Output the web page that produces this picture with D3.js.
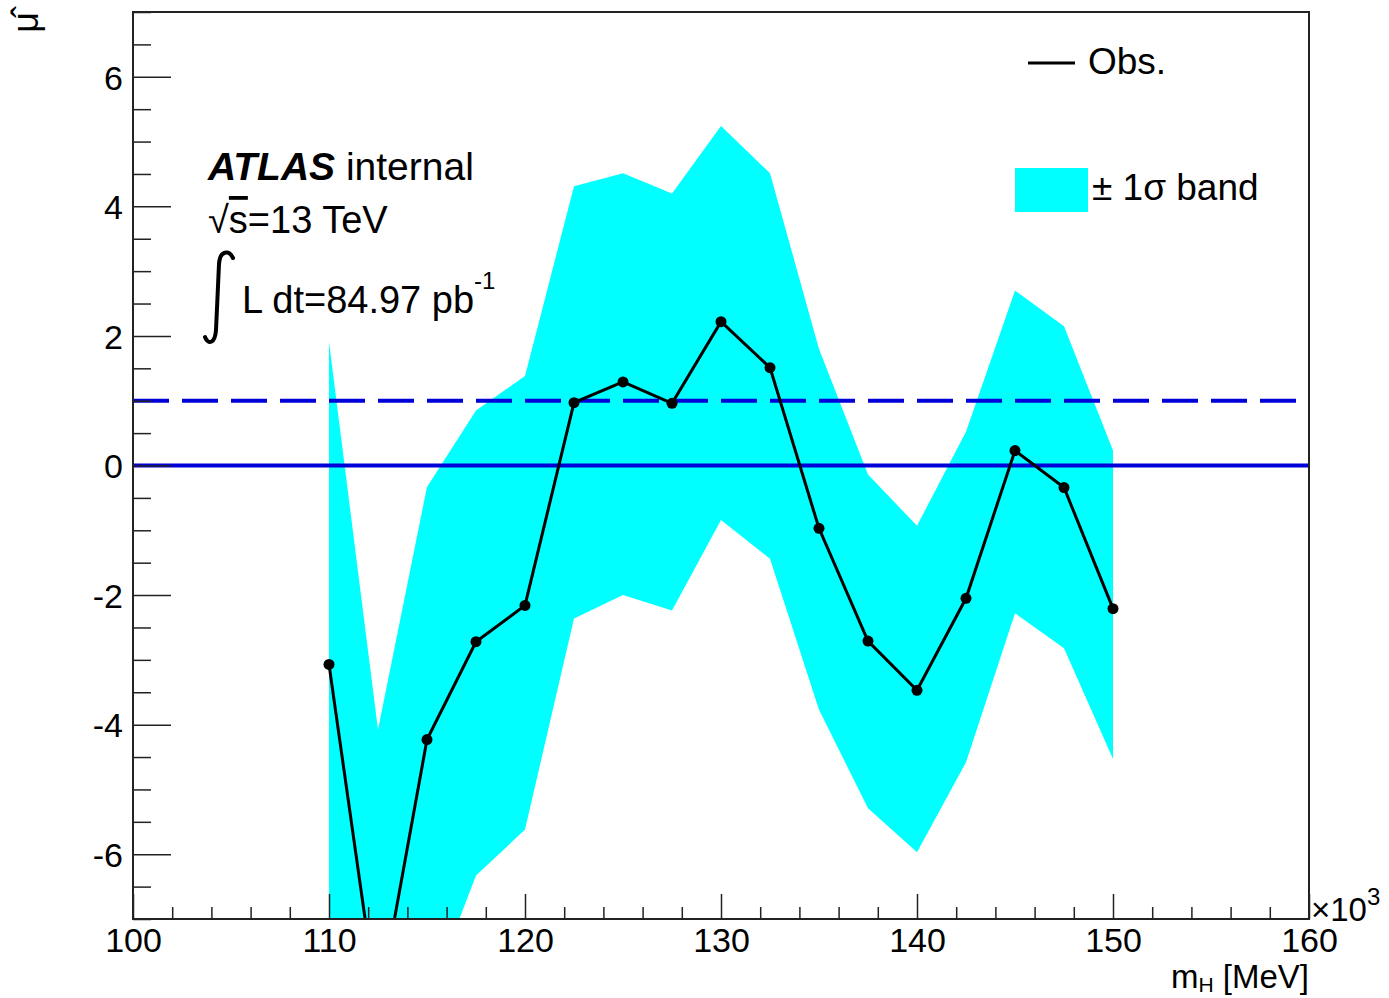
<!DOCTYPE html>
<html>
<head>
<meta charset="utf-8">
<script src="https://cdn.jsdelivr.net/npm/d3@7"></script>
<style>
  body { margin: 0; background: #fff; }
  text { font-family: "Liberation Sans", Arial, sans-serif; fill: #000; }
</style>
</head>
<body>
<svg id="chart"></svg>
<script>
// mass points (x10^3 MeV)
const masses = [110, 112.5, 115, 117.5, 120, 122.5, 125, 127.5, 130, 132.5, 135, 137.5, 140, 142.5, 145, 147.5, 150];
// observed mu-hat
const observed = [-3.07, -8.4, -4.23, -2.72, -2.16, 0.97, 1.29, 0.96, 2.22, 1.51, -0.97, -2.71, -3.47, -2.05, 0.23, -0.34, -2.21];
// +/- 1 sigma band edges
const bandUp = [1.91, -4.08, -0.33, 0.85, 1.38, 4.31, 4.51, 4.2, 5.24, 4.51, 1.8, -0.14, -0.93, 0.52, 2.7, 2.15, 0.23];
const bandLow = [-9.5, -10.5, -8.3, -6.33, -5.62, -2.36, -2.0, -2.24, -0.84, -1.44, -3.77, -5.29, -5.97, -4.58, -2.28, -2.82, -4.53];
// reference lines
const refLines = [0, 1];
// tick labels
const xTicks = [100, 110, 120, 130, 140, 150, 160];
const yTicks = [-6, -4, -2, 0, 2, 4, 6];

const width = 1389;
const height = 998;
const pLeft = 133, pRight = 1309, pTop = 12, pBottom = 919;

const svg = d3.select('#chart').attr('width', width).attr('height', height);

const x = d3.scaleLinear().domain([100, 160]).range([pLeft, pRight]);
const y = d3.scaleLinear().domain([-7, 7]).range([pBottom, pTop]);

svg.append('clipPath').attr('id', 'plotclip')
  .append('rect')
  .attr('x', pLeft).attr('y', pTop)
  .attr('width', pRight - pLeft).attr('height', pBottom - pTop);

const plot = svg.append('g').attr('clip-path', 'url(#plotclip)');

const rows = masses.map((m, i) => ({ m, obs: observed[i], up: bandUp[i], low: bandLow[i] }));

// cyan band
const area = d3.area()
  .x((d) => x(d.m))
  .y0((d) => y(d.low))
  .y1((d) => y(d.up));

plot.append('path')
  .datum(rows)
  .attr('d', area)
  .attr('fill', '#00ffff');

// mu = 0 (solid) and mu = 1 (dashed)
plot.selectAll('line.ref')
  .data(refLines)
  .join('line')
  .attr('class', 'ref')
  .attr('x1', pLeft).attr('x2', pRight)
  .attr('y1', (d) => y(d)).attr('y2', (d) => y(d))
  .attr('stroke', '#0000d8')
  .attr('stroke-width', 4)
  .attr('stroke-dasharray', (d) => (d === 1 ? '36,13' : null));

// observed line + markers
const line = d3.line().x((d) => x(d.m)).y((d) => y(d.obs));
plot.append('path')
  .datum(rows)
  .attr('d', line)
  .attr('fill', 'none')
  .attr('stroke', '#000')
  .attr('stroke-width', 3);

plot.selectAll('circle')
  .data(rows)
  .join('circle')
  .attr('cx', (d) => x(d.m))
  .attr('cy', (d) => y(d.obs))
  .attr('r', 5.5)
  .attr('fill', '#000');

// axes: major ticks with labels, minor ticks without
const fmt = (d) => String(d); // plain hyphen minus like ROOT
const xMajor = d3.axisBottom(x).tickValues(xTicks).tickSize(-25).tickPadding(0).tickFormat(fmt);
const xMinor = d3.axisBottom(x).tickValues(d3.range(100, 161, 2).filter((v) => v % 10 !== 0)).tickSize(-12).tickFormat('');
const yMajor = d3.axisLeft(y).tickValues(yTicks).tickSize(-38).tickPadding(0).tickFormat(fmt);
const yMinor = d3.axisLeft(y).tickValues(d3.range(-7, 7.01, 0.5).filter((v) => v % 2 !== 0)).tickSize(-18).tickFormat('');

function styleAxis(g) {
  g.select('.domain').remove();
  g.selectAll('.tick line').attr('stroke', '#222').attr('stroke-width', 1.5);
  g.selectAll('.tick text').attr('font-size', 34).attr('fill', '#000')
    .style('font-family', '"Liberation Sans", Arial, sans-serif');
}

svg.append('g').attr('transform', `translate(0,${pBottom})`).call(xMinor).call(styleAxis);
svg.append('g').attr('transform', `translate(0,${pBottom})`).call(xMajor).call(styleAxis)
  .selectAll('.tick text').attr('dy', null).attr('y', 33);
svg.append('g').attr('transform', `translate(${pLeft},0)`).call(yMinor).call(styleAxis);
svg.append('g').attr('transform', `translate(${pLeft},0)`).call(yMajor).call(styleAxis)
  .selectAll('.tick text').attr('x', -10).attr('dy', '0.36em');

// frame
svg.append('rect')
  .attr('x', pLeft).attr('y', pTop)
  .attr('width', pRight - pLeft).attr('height', pBottom - pTop)
  .attr('fill', 'none')
  .attr('stroke', '#222')
  .attr('stroke-width', 2);

// axis titles
const xt = svg.append('text').attr('x', pRight).attr('y', 988).attr('text-anchor', 'end').attr('font-size', 33);
xt.append('tspan').text('m');
xt.append('tspan').attr('font-size', 21).attr('dy', 4).text('H');
xt.append('tspan').attr('dy', -4).text(' [MeV]');

const xe = svg.append('text').attr('x', 1311).attr('y', 921).attr('font-size', 33);
xe.append('tspan').text('×10');
xe.append('tspan').attr('font-size', 24).attr('dy', -16).text('3');

svg.append('text')
  .attr('transform', 'translate(38,12) rotate(-90)')
  .attr('text-anchor', 'end')
  .attr('font-size', 36)
  .text('μ\u0302');

// ATLAS labels
const t1 = svg.append('text').attr('x', 208).attr('y', 180).attr('font-size', 39);
t1.append('tspan').attr('font-weight', 'bold').attr('font-style', 'italic').text('ATLAS');
t1.append('tspan').text(' internal');

const t2 = svg.append('text').attr('x', 208).attr('y', 233).attr('font-size', 38);
t2.append('tspan').text('√');
t2.append('tspan').attr('text-decoration', 'overline').text('s');
t2.append('tspan').text('=13 TeV');

// integral sign
svg.append('path')
  .attr('d', 'M233,258 C229,250 220,250 219,264 L216,330 C215,344 208,345 205,337')
  .attr('fill', 'none')
  .attr('stroke', '#000')
  .attr('stroke-width', 4)
  .attr('stroke-linecap', 'round');
const t3 = svg.append('text').attr('x', 242).attr('y', 313).attr('font-size', 38);
t3.append('tspan').text('L dt=84.97 pb');
t3.append('tspan').attr('font-size', 24).attr('dy', -24).text('-1');

// legend
svg.append('line')
  .attr('x1', 1028).attr('x2', 1075).attr('y1', 63).attr('y2', 63)
  .attr('stroke', '#000').attr('stroke-width', 3);
svg.append('text').attr('x', 1088).attr('y', 74).attr('font-size', 37).text('Obs.');
svg.append('rect')
  .attr('x', 1015).attr('y', 168).attr('width', 73).attr('height', 44)
  .attr('fill', '#00ffff');
svg.append('text').attr('x', 1092).attr('y', 200).attr('font-size', 37).text('± 1σ band');
</script>
</body>
</html>
